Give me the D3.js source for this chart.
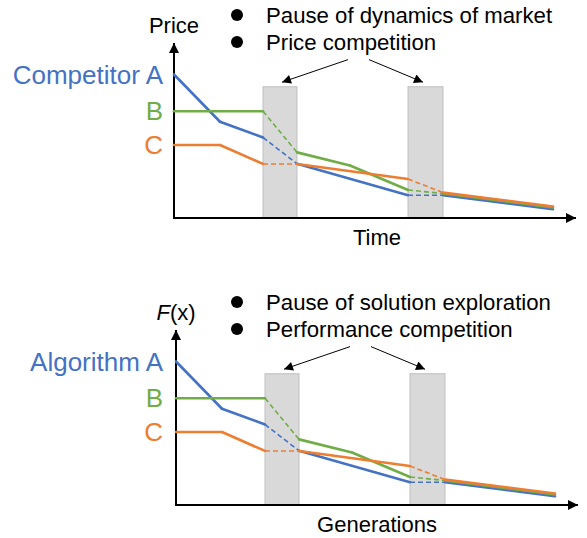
<!DOCTYPE html>
<html>
<head>
<meta charset="utf-8">
<script src="https://cdn.jsdelivr.net/npm/d3@7"></script>
<style>
  html, body { margin: 0; padding: 0; background: #fff; }
  svg { display: block; }
</style>
</head>
<body>
<svg id="chart" width="587" height="538" font-family="'Liberation Sans', Arial, sans-serif"></svg>
<script>
// ---- data ----
const seriesNames = ["A", "B", "C"];
const seriesColors = ["#4472C4", "#70AD47", "#ED7D31"];
const timePoints = [
  [0, 4.6, 8.9, 12.3, 23.4, 26.9, 37.9],          // A
  [0, 8.9, 12.3, 17.6, 23.4, 26.9, 37.9],         // B
  [0, 4.6, 8.9, 12.3, 23.4, 26.9, 37.9]           // C
];
const valuesA = [82, 55, 46, 31, 13, 13, 5];
const valuesB = [61, 61, 37.5, 30, 16, 14, 6];
const valuesC = [41.7, 41.7, 30.9, 30.9, 22.3, 14.5, 6.6];
const pauseStart = [8.9, 23.4];
const pauseEnd = [12.3, 26.9];
const pauseHeight = 75;

const panels = [
  { yLabel: "Price", xLabel: "Time", first: "Competitor A",
    bullets: ["Pause of dynamics of market", "Price competition"] },
  { yLabel: "F(x)", xLabel: "Generations", first: "Algorithm A",
    bullets: ["Pause of solution exploration", "Performance competition"] }
];
const panelOrigins = [[174, 218], [176, 505]];

// ---- drawing ----
const svg = d3.select("#chart");
const defs = svg.append("defs");
defs.append("marker").attr("id", "axisHead").attr("viewBox", "0 0 10 10")
  .attr("refX", 10).attr("refY", 5).attr("markerWidth", 10).attr("markerHeight", 10)
  .attr("markerUnits", "userSpaceOnUse").attr("orient", "auto")
  .append("path").attr("d", "M0,0 L10,5 L0,10 Z").attr("fill", "#000");
defs.append("marker").attr("id", "annoHead").attr("viewBox", "0 0 10 10")
  .attr("refX", 10).attr("refY", 5).attr("markerWidth", 11).attr("markerHeight", 9)
  .attr("markerUnits", "userSpaceOnUse").attr("orient", "auto")
  .append("path").attr("d", "M0,0 L10,5 L0,10 Z").attr("fill", "#000");

const allValues = [valuesA, valuesB, valuesC];

panels.forEach((p, pi) => {
  const [x0, y0] = panelOrigins[pi];
  const x = d3.scaleLinear().domain([0, 40]).range([x0, x0 + 400]);
  const y = d3.scaleLinear().domain([0, 100]).range([y0, y0 - 175]);
  const g = svg.append("g");

  // pause rectangles
  pauseStart.forEach((s, i) => {
    g.append("rect")
      .attr("x", x(s)).attr("y", y(pauseHeight))
      .attr("width", x(pauseEnd[i]) - x(s))
      .attr("height", y(0) - y(pauseHeight))
      .attr("fill", "#D9D9D9").attr("stroke", "#BFBFBF").attr("stroke-width", 1);
  });

  // axes
  g.append("line").attr("x1", x(0)).attr("y1", y(0)).attr("x2", x(0)).attr("y2", y(100))
    .attr("stroke", "#000").attr("stroke-width", 2).attr("marker-end", "url(#axisHead)");
  g.append("line").attr("x1", x(0) - 1).attr("y1", y(0)).attr("x2", x(40.2)).attr("y2", y(0))
    .attr("stroke", "#000").attr("stroke-width", 2).attr("marker-end", "url(#axisHead)");

  // series
  const inPause = t => pauseStart.some((s, i) => t > s && t < pauseEnd[i]);
  seriesNames.forEach((name, si) => {
    const ts = timePoints[si], vs = allValues[si];
    for (let k = 0; k < ts.length - 1; k++) {
      const dashed = inPause((ts[k] + ts[k + 1]) / 2);
      g.append("line")
        .attr("x1", x(ts[k])).attr("y1", y(vs[k]))
        .attr("x2", x(ts[k + 1])).attr("y2", y(vs[k + 1]))
        .attr("stroke", seriesColors[si])
        .attr("stroke-width", dashed ? 1.6 : 2.6)
        .attr("stroke-linecap", dashed ? "butt" : "round")
        .attr("stroke-dasharray", dashed ? "5,3" : null);
    }
    g.append("text")
      .attr("x", 163).attr("y", y(vs[0])).attr("dy", "0.35em")
      .attr("text-anchor", "end").attr("font-size", 26)
      .attr("fill", seriesColors[si])
      .text(si === 0 ? p.first : name);
  });

  // y label
  const yl = g.append("text").attr("x", x(0)).attr("y", y0 - 185).attr("text-anchor", "middle")
    .attr("font-size", 22).attr("fill", "#000");
  if (pi === 0) yl.text(p.yLabel);
  else {
    yl.append("tspan").attr("font-style", "italic").text("F");
    yl.append("tspan").text("(x)");
  }
  // x label
  g.append("text").attr("x", 377).attr("y", y0 + 27).attr("text-anchor", "middle")
    .attr("font-size", 22).attr("fill", "#000").text(p.xLabel);

  // bullets
  p.bullets.forEach((b, bi) => {
    const by = y0 - 203 + bi * 27;
    g.append("circle").attr("cx", 237).attr("cy", by).attr("r", 6).attr("fill", "#000");
    g.append("text").attr("x", 266).attr("y", by + 7.5)
      .attr("font-size", 22.2).attr("fill", "#000").text(b);
  });

  // annotation arrows
  g.append("line").attr("x1", x(17.4)).attr("y1", y(90.5)).attr("x2", x(10.8)).attr("y2", y(77.6))
    .attr("stroke", "#000").attr("stroke-width", 1).attr("marker-end", "url(#annoHead)");
  g.append("line").attr("x1", x(19.5)).attr("y1", y(90.5)).attr("x2", x(24.9)).attr("y2", y(77.6))
    .attr("stroke", "#000").attr("stroke-width", 1).attr("marker-end", "url(#annoHead)");
});
</script>
</body>
</html>
